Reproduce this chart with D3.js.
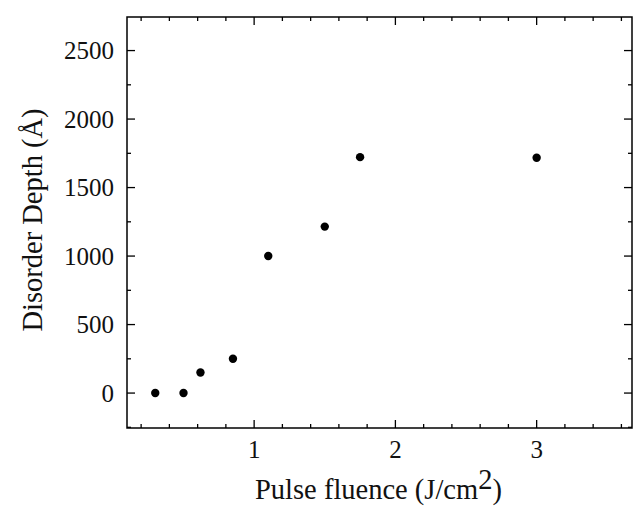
<!DOCTYPE html>
<html>
<head>
<meta charset="utf-8">
<script src="https://cdn.jsdelivr.net/npm/d3@7"></script>
<style>
  body { margin: 0; background: #fff; }
  text { font-family: "Liberation Serif", "DejaVu Serif", serif; fill: #111; }
</style>
</head>
<body>
<div id="plot"></div>
<script>
// data
const fluence = [0.3, 0.5, 0.62, 0.85, 1.1, 1.5, 1.75, 3.0];
const depth = [0, 0, 150, 250, 1000, 1215, 1722, 1718];
const xTicks = [1, 2, 3];
const yTicks = [0, 500, 1000, 1500, 2000, 2500];

const W = 635, H = 510;
const pLeft = 127, pRight = 632, pTop = 17, pBottom = 428;

const svg = d3.select('#plot')
  .append('svg')
  .attr('width', W)
  .attr('height', H);

const x = d3.scaleLinear().domain([0.1, 3.675]).range([pLeft, pRight]);
const y = d3.scaleLinear().domain([-255, 2745]).range([pBottom, pTop]);

const minorX = d3.range(0.2, 3.7, 0.2).filter((v) => Math.abs(v - Math.round(v)) > 0.01);
const minorY = [-250, 250, 750, 1250, 1750, 2250];

// frame
svg.append('rect')
  .attr('x', pLeft)
  .attr('y', pTop)
  .attr('width', pRight - pLeft)
  .attr('height', pBottom - pTop)
  .attr('fill', 'none')
  .attr('stroke', 'black')
  .attr('stroke-width', 1.5);

// inward ticks on all four sides
const ticks = svg.append('g').attr('stroke', 'black').attr('stroke-width', 1.3);
const tickX = (v, len) => {
  ticks.append('line').attr('x1', x(v)).attr('x2', x(v)).attr('y1', pBottom).attr('y2', pBottom - len);
  ticks.append('line').attr('x1', x(v)).attr('x2', x(v)).attr('y1', pTop).attr('y2', pTop + len);
};
const tickY = (v, len) => {
  ticks.append('line').attr('y1', y(v)).attr('y2', y(v)).attr('x1', pLeft).attr('x2', pLeft + len);
  ticks.append('line').attr('y1', y(v)).attr('y2', y(v)).attr('x1', pRight).attr('x2', pRight - len);
};
xTicks.forEach((v) => tickX(v, 8));
minorX.forEach((v) => tickX(v, 4));
yTicks.forEach((v) => tickY(v, 8));
minorY.forEach((v) => tickY(v, 4));

// tick labels
svg.append('g')
  .selectAll('text')
  .data(xTicks)
  .enter()
  .append('text')
  .attr('x', (d) => x(d))
  .attr('y', 458)
  .attr('text-anchor', 'middle')
  .style('font-size', '25px')
  .text((d) => d);

svg.append('g')
  .selectAll('text')
  .data(yTicks)
  .enter()
  .append('text')
  .attr('x', 114)
  .attr('y', (d) => y(d) + 8.5)
  .attr('text-anchor', 'end')
  .style('font-size', '25px')
  .text((d) => d);

// axis titles
const xt = svg.append('text')
  .attr('x', 255)
  .attr('y', 499)
  .style('font-size', '28.5px');
xt.append('tspan').text('Pulse fluence (J/cm');
xt.append('tspan').attr('dy', -10).text('2');
xt.append('tspan').attr('dy', 10).text(')');

svg.append('text')
  .attr('transform', 'translate(42,220) rotate(-90)')
  .attr('text-anchor', 'middle')
  .style('font-size', '28.5px')
  .text('Disorder Depth (Å)');

// points
svg.append('g')
  .selectAll('circle')
  .data(fluence)
  .enter()
  .append('circle')
  .attr('cx', (d) => x(d))
  .attr('cy', (d, i) => y(depth[i]))
  .attr('r', 4.2)
  .attr('fill', 'black');
</script>
</body>
</html>
